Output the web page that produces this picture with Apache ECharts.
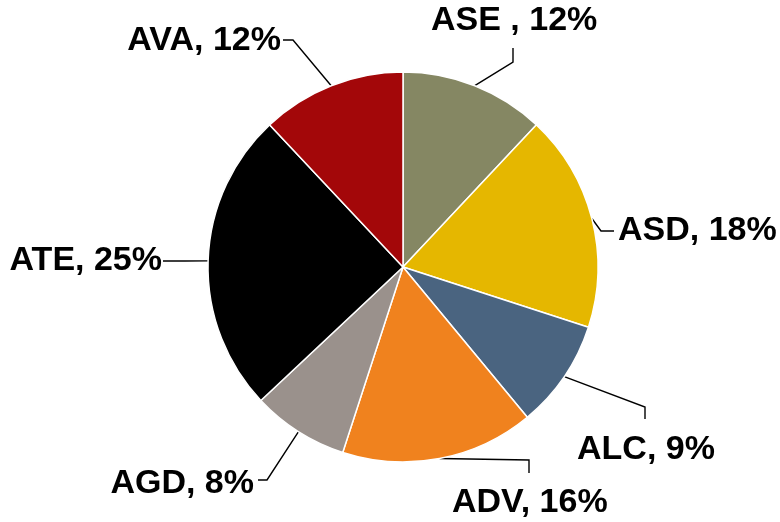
<!DOCTYPE html>
<html>
<head>
<meta charset="utf-8">
<script src="https://cdn.jsdelivr.net/npm/echarts@6/dist/echarts.min.js"></script>
<style>
  html, body { margin: 0; padding: 0; background: #ffffff; }
  #chart { width: 780px; height: 522px; }
</style>
</head>
<body>
<div id="chart"></div>
<script>
// Share of each category (percent), clockwise from 12 o'clock
const categories = ['ASE ', 'ASD', 'ALC', 'ADV', 'AGD', 'ATE', 'AVA'];
const shares = [12, 18, 9, 16, 8, 25, 12];
const sliceColors = ['#858763', '#e5b700', '#4a6480', '#f0821e', '#9a918c', '#000000', '#a30709'];

// Where each label sits and how its leader line bends on the way there
const labelPlacement = [
  { x: 431, y: 21,  align: 'left',  bend: [[513, 62], [513, 48]] },
  { x: 618, y: 231, align: 'left',  bend: [[601, 231], [614, 231]] },
  { x: 577, y: 450, align: 'left',  bend: [[645, 407], [645, 419]] },
  { x: 452, y: 503, align: 'left',  bend: [[529, 460], [529, 473]] },
  { x: 254, y: 484, align: 'right', bend: [[267, 480], [258, 480]] },
  { x: 162, y: 261, align: 'right', bend: [[185, 261], [163, 261]] },
  { x: 281, y: 41,  align: 'right', bend: [[293, 40], [283, 40]] }
];

const chart = echarts.init(document.getElementById('chart'), null, { renderer: 'canvas' });

chart.setOption({
  animation: false,
  backgroundColor: '#ffffff',
  series: [{
    type: 'pie',
    center: [403, 267],
    radius: 195,
    startAngle: 90,
    clockwise: true,
    avoidLabelOverlap: false,
    data: categories.map((name, i) => ({
      name: name,
      value: shares[i],
      itemStyle: { color: sliceColors[i] }
    })),
    itemStyle: { borderColor: '#ffffff', borderWidth: 1.5 },
    label: {
      show: true,
      position: 'outside',
      color: '#000000',
      fontFamily: 'Liberation Sans, Arial, sans-serif',
      fontWeight: 'bold',
      fontSize: 34,
      formatter: p => p.name + ', ' + p.value + '%'
    },
    labelLine: {
      show: true,
      lineStyle: { color: '#000000', width: 1.4 }
    },
    emphasis: { disabled: true },
    labelLayout: function (params) {
      const place = labelPlacement[params.dataIndex];
      const start = params.labelLinePoints ? params.labelLinePoints[0] : null;
      const out = {
        x: place.x,
        y: place.y,
        align: place.align,
        verticalAlign: 'middle',
        hideOverlap: false,
        moveOverlap: null
      };
      if (start) {
        out.labelLinePoints = [start, place.bend[0], place.bend[1]];
      }
      return out;
    }
  }]
});
</script>
</body>
</html>
